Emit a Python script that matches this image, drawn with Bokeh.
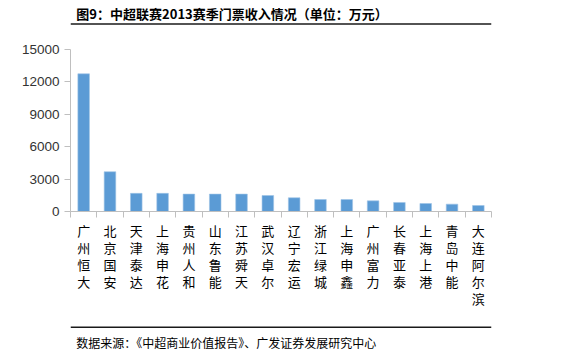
from bokeh.plotting import figure
from bokeh.layouts import column
from bokeh.models import Range1d, FixedTicker, LinearAxis
from bokeh.core.properties import value
from bokeh.embed import file_html
from bokeh.resources import INLINE

title_text = "图9：中超联赛2013赛季门票收入情况（单位：万元）"
source_text = "数据来源：《中超商业价值报告》、广发证券发展研究中心"

teams = ["广州恒大", "北京国安", "天津泰达", "上海申花", "贵州人和", "山东鲁能",
         "江苏舜天", "武汉卓尔", "辽宁宏运", "浙江绿城", "上海申鑫", "广州富力",
         "长春亚泰", "上海上港", "青岛中能", "大连阿尔滨"]
revenue = [12750, 3680, 1680, 1680, 1610, 1610, 1610, 1480, 1270, 1110, 1110,
           985, 835, 740, 680, 555]
y_ticks = [0, 3000, 6000, 9000, 12000, 15000]

W = 574
TOP_H, MID_H, BOT_H = 30, 288, 35


def deco_fig(h):
    f = figure(width=W, height=h, output_backend="svg", toolbar_location=None,
               x_range=Range1d(0, W), y_range=Range1d(h, 0),
               min_border=0, x_axis_location=None, y_axis_location=None)
    f.outline_line_color = None
    f.grid.visible = False
    f.border_fill_color = "white"
    f.background_fill_color = "white"
    return f


# header
top = deco_fig(TOP_H)
top.text(x=[8], y=[12.5], text=[title_text], text_font=value("Noto Sans CJK SC"),
         text_font_size="13px", text_font_style="bold", text_color="#000000",
         text_baseline="middle", text_align="left")
top.segment(x0=[0], y0=[23.5], x1=[W], y1=[23.5], line_color="#1a1a1a", line_width=1.5)

# chart
n = len(teams)
centers = [i + 0.5 for i in range(n)]
bounds = [float(i) for i in range(n + 1)]

p = figure(width=W, height=MID_H, output_backend="svg", toolbar_location=None,
           x_range=Range1d(0, n), y_range=Range1d(0, 15000),
           min_border_left=70, min_border_right=83, min_border_top=19,
           min_border_bottom=107, x_axis_location=None, y_axis_location=None)
p.outline_line_color = None
p.grid.visible = False
p.background_fill_color = "white"
p.border_fill_color = "white"

p.vbar(x=centers, top=revenue, width=0.44, fill_color="#5B9BD5",
       line_color="#9DC3E6", line_width=0.6)

yax = LinearAxis(ticker=FixedTicker(ticks=y_ticks))
yax.axis_line_color = "#BFBFBF"
yax.major_tick_line_color = "#BFBFBF"
yax.major_tick_out = 6
yax.major_tick_in = 0
yax.minor_tick_line_color = None
yax.major_label_text_font = "Liberation Sans"
yax.major_label_text_font_size = "13.5px"
yax.major_label_text_color = "#333333"
yax.major_label_standoff = 5
p.add_layout(yax, "left")

xax = LinearAxis(ticker=FixedTicker(ticks=centers, minor_ticks=bounds))
xax.axis_line_color = "#BFBFBF"
xax.major_tick_line_color = None
xax.minor_tick_line_color = "#BFBFBF"
xax.minor_tick_out = 6
xax.minor_tick_in = 0
xax.major_label_overrides = {c: "\n".join(t) for c, t in zip(centers, teams)}
xax.major_label_text_font = "Noto Sans CJK SC"
xax.major_label_text_font_size = "13px"
xax.major_label_text_color = "#000000"
xax.major_label_text_line_height = 0.9
xax.major_label_standoff = 3
p.add_layout(xax, "below")

# footer
bot = deco_fig(BOT_H)
bot.segment(x0=[0], y0=[8.7], x1=[W], y1=[8.7], line_color="#1a1a1a", line_width=1.5)
bot.text(x=[8], y=[24], text=[source_text], text_font=value("Noto Sans CJK SC"),
         text_font_size="12px", text_color="#000000",
         text_baseline="middle", text_align="left")

layout = column(top, p, bot, spacing=0)
open("out.html", "w").write(file_html(layout, INLINE))
